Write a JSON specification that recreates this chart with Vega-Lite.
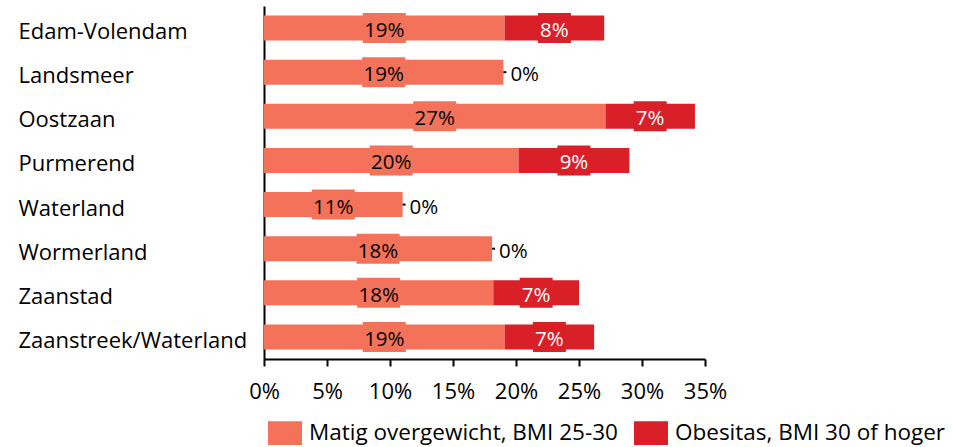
{
  "$schema": "https://vega.github.io/schema/vega-lite/v6.json",
  "width": 441,
  "height": 353,
  "autosize": "none",
  "padding": {"left": 264, "top": 6, "right": 248, "bottom": 88},
  "config": {
    "font": "Open Sans",
    "view": {"stroke": null},
    "text": {"font": "Open Sans"}
  },
  "data": {
    "values": [
      {"category": "Edam-Volendam", "series": "Matig overgewicht, BMI 25-30", "value": 0.191},
      {"category": "Edam-Volendam", "series": "Obesitas, BMI 30 of hoger", "value": 0.079},
      {"category": "Landsmeer", "series": "Matig overgewicht, BMI 25-30", "value": 0.190},
      {"category": "Landsmeer", "series": "Obesitas, BMI 30 of hoger", "value": 0},
      {"category": "Oostzaan", "series": "Matig overgewicht, BMI 25-30", "value": 0.271},
      {"category": "Oostzaan", "series": "Obesitas, BMI 30 of hoger", "value": 0.071},
      {"category": "Purmerend", "series": "Matig overgewicht, BMI 25-30", "value": 0.202},
      {"category": "Purmerend", "series": "Obesitas, BMI 30 of hoger", "value": 0.088},
      {"category": "Waterland", "series": "Matig overgewicht, BMI 25-30", "value": 0.110},
      {"category": "Waterland", "series": "Obesitas, BMI 30 of hoger", "value": 0},
      {"category": "Wormerland", "series": "Matig overgewicht, BMI 25-30", "value": 0.181},
      {"category": "Wormerland", "series": "Obesitas, BMI 30 of hoger", "value": 0},
      {"category": "Zaanstad", "series": "Matig overgewicht, BMI 25-30", "value": 0.182},
      {"category": "Zaanstad", "series": "Obesitas, BMI 30 of hoger", "value": 0.068},
      {"category": "Zaanstreek/Waterland", "series": "Matig overgewicht, BMI 25-30", "value": 0.191},
      {"category": "Zaanstreek/Waterland", "series": "Obesitas, BMI 30 of hoger", "value": 0.071}
    ]
  },
  "transform": [
    {"stack": "value", "groupby": ["category"], "sort": [{"field": "series", "order": "ascending"}], "as": ["v0", "v1"]},
    {"calculate": "(datum.v0 + datum.v1) / 2", "as": "mid"}
  ],
  "encoding": {
    "y": {
      "field": "category",
      "type": "nominal",
      "sort": null,
      "scale": {"paddingInner": 0, "paddingOuter": 0},
      "axis": {
        "title": null,
        "domainColor": "#000",
        "domainWidth": 2,
        "ticks": false,
        "labelAlign": "left",
        "labelPadding": 246,
        "labelOffset": 4,
        "labelFontSize": 22,
        "labelColor": "#000",
        "labelFont": "Open Sans",
        "labelLimit": 400
      }
    }
  },
  "layer": [
    {
      "mark": {"type": "bar", "height": {"band": 0.567}},
      "encoding": {
        "x": {
          "field": "v0",
          "type": "quantitative",
          "scale": {"domain": [0, 0.35], "nice": false},
          "axis": {
            "title": null,
            "format": ".0%",
            "values": [0, 0.05, 0.1, 0.15, 0.2, 0.25, 0.3, 0.35],
            "grid": false,
            "domainColor": "#000",
            "domainWidth": 2,
            "tickColor": "#000",
            "tickWidth": 2,
            "tickSize": 7,
            "labelFontSize": 22,
            "labelColor": "#000",
            "labelFont": "Open Sans",
            "labelPadding": 15,
            "labelFlush": false
          }
        },
        "x2": {"field": "v1"},
        "color": {
          "field": "series",
          "type": "nominal",
          "scale": {"domain": ["Matig overgewicht, BMI 25-30", "Obesitas, BMI 30 of hoger"], "range": ["#F37259", "#D91F27"]},
          "legend": {
            "title": null,
            "orient": "none",
            "legendX": 4,
            "legendY": 410,
            "direction": "horizontal",
            "symbolType": "M-1,-0.7H1V0.7H-1Z",
            "symbolSize": 1156,
            "symbolStrokeWidth": 0,
            "labelFontSize": 22.5,
            "labelFont": "Open Sans",
            "labelColor": "#000",
            "labelOffset": 7,
            "columnPadding": 16,
            "labelLimit": 400
          }
        }
      }
    },
    {
      "transform": [{"filter": "datum.value >= 0.095"}],
      "mark": {"type": "bar", "height": {"band": 0.68}, "xOffset": -21.5, "x2Offset": 21.5},
      "encoding": {
        "x": {"field": "mid", "type": "quantitative"},
        "x2": {"field": "mid"},
        "color": {"field": "series", "type": "nominal"}
      }
    },
    {
      "transform": [{"filter": "datum.value > 0 && datum.value < 0.095"}],
      "mark": {"type": "bar", "height": {"band": 0.68}, "xOffset": -16.5, "x2Offset": 16.5},
      "encoding": {
        "x": {"field": "mid", "type": "quantitative"},
        "x2": {"field": "mid"},
        "color": {"field": "series", "type": "nominal"}
      }
    },
    {
      "transform": [{"filter": "datum.value > 0"}],
      "mark": {"type": "text", "fontSize": 20.5, "baseline": "middle", "align": "center", "dy": 3},
      "encoding": {
        "x": {"field": "mid", "type": "quantitative"},
        "text": {"field": "value", "type": "quantitative", "format": ".0%"},
        "color": {
          "condition": {"test": "datum.series === 'Obesitas, BMI 30 of hoger'", "value": "#ffffff"},
          "value": "#000000"
        }
      }
    },
    {
      "transform": [{"filter": "datum.value == 0"}],
      "mark": {"type": "text", "fontSize": 20.5, "baseline": "middle", "align": "left", "dx": 7, "dy": 3, "color": "#000"},
      "encoding": {
        "x": {"field": "v1", "type": "quantitative"},
        "text": {"field": "value", "type": "quantitative", "format": ".0%"}
      }
    },
    {
      "transform": [{"filter": "datum.value == 0"}],
      "mark": {"type": "rule", "color": "#000", "strokeWidth": 2, "x2Offset": 3},
      "encoding": {
        "x": {"field": "v1", "type": "quantitative"},
        "x2": {"field": "v1"}
      }
    }
  ]
}
